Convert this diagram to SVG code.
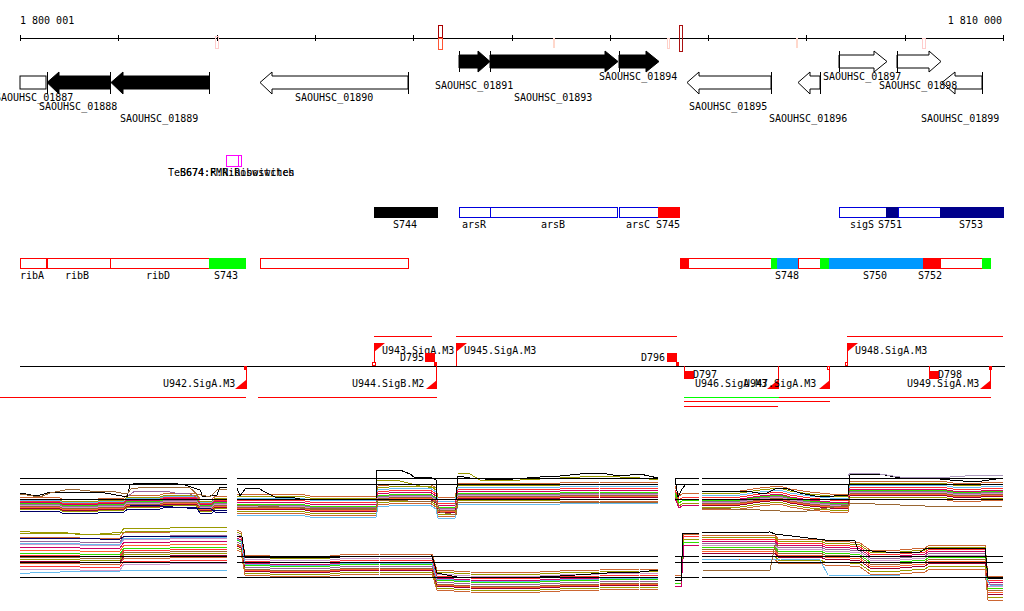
<svg xmlns="http://www.w3.org/2000/svg" xmlns:xlink="http://www.w3.org/1999/xlink" width="1024" height="611" viewBox="0 0 1024 611">
<style>
text{font-family:"DejaVu Sans Mono","Liberation Mono",monospace;font-size:10px;fill:#000}
.ln{stroke:#000;stroke-width:1;shape-rendering:crispEdges;fill:none}
.rl{stroke:#f00;stroke-width:1;shape-rendering:crispEdges;fill:none}
.gl{stroke:#0f0;stroke-width:1;shape-rendering:crispEdges;fill:none}
.gb{fill:#000;stroke:#000;stroke-width:1}
.gw{fill:#fff;stroke:#000;stroke-width:1}
.ro{fill:#fff;stroke:#f00;stroke-width:1;shape-rendering:crispEdges}
.bo{fill:#fff;stroke:#0000dd;stroke-width:1;shape-rendering:crispEdges}
.rf{fill:#f00;shape-rendering:crispEdges}
.gf{fill:#00ff00;shape-rendering:crispEdges}
.cf{fill:#0099ff;shape-rendering:crispEdges}
.nf{fill:#00008b;shape-rendering:crispEdges}
.pl{fill:none;stroke-width:1;shape-rendering:crispEdges}
.c1{stroke:#cc6633}.c2{stroke:#999900}.c3{stroke:#ff3333}.c4{stroke:#cc0066}
.c5{stroke:#66bbee}.c6{stroke:#33dd00}.c7{stroke:#996699}.c8{stroke:#cc99cc}
.c9{stroke:#996633}.c10{stroke:#000066}.c11{stroke:#ff6633}.c12{stroke:#990033}
.ck{stroke:#000}
</style>
<defs>
<path id="ua" d="M20,501 H58 L62,503 H98 L102,502 H124 L128,499 H160 L166,497 H196 L200,503 H212 L216,500 H227"/>
<path id="ub" d="M237,503 L260,502 H300 L310,504 H376 L378,494 L400,492 H430 L436,496 L438,505 H455 L458,492 L480,491 H560 L600,490 H658"/>
<path id="uc" d="M675,490 L679,500 L684,497 H699"/>
<path id="ud" d="M702,497 L740,497 L760,494 L780,492 L790,495 L810,498 L830,500 H848 L850,488 L880,487 H940 L960,490 L1003,488"/>
<path id="la" d="M20,553 H60 L80,554 H120 L124,548 H170 L190,547 H227"/>
<path id="lb" d="M237,540 L241,542 L245,565 L270,566 H330 L340,565 L380,564 H432 L437,580 L470,582 L520,583 L560,581 L600,580 L640,579 H658"/>
<path id="lc" d="M675,577 L681,578 L684,536 H699"/>
<path id="ld" d="M702,537 H775 L778,541 H820 L825,543 L850,544 L860,545 L870,552 L900,552 L925,550 L930,547 H985 L988,578 H1003"/>
</defs>
<rect width="1024" height="611" fill="#fff"/>

<g id="ruler">
<text x="20" y="24">1 800 001</text>
<text x="1002" y="24" text-anchor="end">1 810 000</text>
<path class="ln" d="M20,38 H1004 M20,35 V41 M118,35 V41 M217,35 V41 M315,35 V41 M413,35 V41 M512,35 V41 M610,35 V41 M708,35 V41 M806,35 V41 M905,35 V41 M1003,35 V41"/>
<rect x="215.5" y="36.5" width="3" height="12" fill="none" stroke="#ffcccc"/>
<rect x="438.5" y="25.5" width="4" height="12" fill="none" stroke="#aa0000"/>
<rect x="438.5" y="38.5" width="4" height="11" fill="none" stroke="#ff5533"/>
<rect x="553" y="38" width="2" height="10" fill="#ffd8cc"/>
<rect x="667.5" y="38.5" width="2" height="10" fill="none" stroke="#ffd0c8"/>
<rect x="679.5" y="25.5" width="3" height="26" fill="none" stroke="#aa1111"/>
<rect x="796" y="38" width="2" height="10" fill="#ffd8cc"/>
<rect x="922.5" y="38.5" width="3" height="10" fill="none" stroke="#ffcccc"/>
</g>

<g id="genes">
<g id="SAOUHSC_01887"><rect class="gw" x="20" y="76" width="26" height="13"/><text x="-5" y="101">SAOUHSC_01887</text></g>
<g id="SAOUHSC_01888"><polygon class="gb" points="47,82.5 59,72 59,76 110,76 110,89 59,89 59,94"/><text x="39" y="110">SAOUHSC_01888</text></g>
<g id="SAOUHSC_01889"><polygon class="gb" points="111,82.5 123,72 123,76 209,76 209,89 123,89 123,94"/><text x="120" y="122">SAOUHSC_01889</text></g>
<g id="SAOUHSC_01890"><polygon class="gw" points="260,82.5 272,72 272,76 408,76 408,89 272,89 272,94"/><text x="295" y="101">SAOUHSC_01890</text></g>
<g id="SAOUHSC_01891"><polygon class="gb" points="459,55 478,55 478,51 490,61.5 478,72 478,68 459,68"/><text x="435" y="89">SAOUHSC_01891</text></g>
<g id="SAOUHSC_01893"><polygon class="gb" points="490,55 605,55 605,51 618,61.5 605,72 605,68 490,68"/><text x="514" y="101">SAOUHSC_01893</text></g>
<g id="SAOUHSC_01894"><polygon class="gb" points="619,55 646,55 646,51 659,61.5 646,72 646,68 619,68"/><text x="599" y="80">SAOUHSC_01894</text></g>
<g id="SAOUHSC_01895"><polygon class="gw" points="687,82.5 699,72 699,76 771,76 771,89 699,89 699,94"/><text x="689" y="110">SAOUHSC_01895</text></g>
<g id="SAOUHSC_01896"><polygon class="gw" points="798,82.5 810,72 810,76 820,76 820,89 810,89 810,94"/><text x="769" y="122">SAOUHSC_01896</text></g>
<g id="SAOUHSC_01899"><polygon class="gw" points="942,82.5 955,72 955,76 982,76 982,89 955,89 955,94"/><text x="921" y="122">SAOUHSC_01899</text></g>
<g id="SAOUHSC_01898"><polygon class="gw" points="897,55 929,55 929,51 941,61.5 929,72 929,68 897,68"/><text x="879" y="89">SAOUHSC_01898</text></g>
<g id="SAOUHSC_01897"><polygon class="gw" points="839,55 874,55 874,51 887,61.5 874,72 874,68 839,68"/><text x="823" y="80">SAOUHSC_01897</text></g>
<path class="ln" d="M459,51 V72 M490,51 V72 M619,51 V72 M839,51 V72 M897,51 V72 M47,72 V94 M110,72 V94 M209,72 V94 M408,72 V94 M771,72 V94 M820,72 V94 M982,72 V94"/>
</g>

<g id="riboswitch">
<rect x="226.5" y="155.5" width="15" height="11" fill="none" stroke="#ff00ff" shape-rendering="crispEdges"/>
<rect x="226.5" y="155.5" width="12" height="11" fill="none" stroke="#ff00ff" shape-rendering="crispEdges"/>
<text x="168" y="176">TeB674:R:Riboswitches</text>
<text x="180" y="176">S674:FMN:Riboswitch</text>
</g>

<g id="segments-upper">
<g id="S744"><rect x="374" y="207" width="64" height="11" fill="#000"/><text x="393" y="228">S744</text></g>
<g id="arsR"><rect class="bo" x="459.5" y="207.5" width="31" height="10"/><text x="462" y="228">arsR</text></g>
<g id="arsB"><rect class="bo" x="490.5" y="207.5" width="127" height="10"/><text x="541" y="228">arsB</text></g>
<g id="arsC"><rect class="bo" x="619.5" y="207.5" width="39" height="10"/><text x="626" y="228">arsC</text></g>
<g id="S745"><rect class="rf" x="658" y="207" width="22" height="11"/><text x="656" y="228">S745</text></g>
<g id="sigS"><rect class="bo" x="839.5" y="207.5" width="47" height="10"/><text x="850" y="228">sigS</text></g>
<g id="S751"><rect class="nf" x="886" y="207" width="12" height="11"/><text x="878" y="228">S751</text></g>
<rect class="bo" x="898.5" y="207.5" width="42" height="10"/>
<g id="S753"><rect class="nf" x="940" y="207" width="64" height="11"/><text x="959" y="228">S753</text></g>
</g>

<g id="segments-lower">
<g id="ribA"><rect class="ro" x="20.5" y="258.5" width="26" height="10"/><text x="20" y="279">ribA</text></g>
<g id="ribB"><rect class="ro" x="47.5" y="258.5" width="63" height="10"/><text x="65" y="279">ribB</text></g>
<g id="ribD"><rect class="ro" x="110.5" y="258.5" width="99" height="10"/><text x="146" y="279">ribD</text></g>
<g id="S743"><rect class="gf" x="209" y="258" width="37" height="11"/><text x="214" y="279">S743</text></g>
<rect class="ro" x="260.5" y="258.5" width="148" height="10"/>
<rect class="rf" x="680" y="258" width="8" height="11"/>
<rect class="ro" x="688.5" y="258.5" width="83" height="10"/>
<rect class="gf" x="771" y="258" width="6" height="11"/>
<g id="S748"><rect class="cf" x="777" y="258" width="21" height="11"/><text x="775" y="279">S748</text></g>
<rect class="ro" x="798.5" y="258.5" width="22" height="10"/>
<rect class="gf" x="820" y="258" width="9" height="11"/>
<g id="S750"><rect class="cf" x="829" y="258" width="94" height="11"/><text x="863" y="279">S750</text></g>
<g id="S752"><rect class="rf" x="923" y="258" width="17" height="11"/><text x="918" y="279">S752</text></g>
<rect class="ro" x="940.5" y="258.5" width="42" height="10"/>
<rect class="gf" x="982" y="258" width="9" height="11"/>
</g>

<g id="connectors">
<path class="ln" d="M20,366 H1005"/>
<path class="rl" d="M374,336 H432 M456,336 H677 M847,336 H1003 M0,397 H246 M258,397 H437 M779,397 H991 M684,401 H830 M684,406 H778"/>
<path class="gl" d="M684,397 H779"/>
</g>

<g id="promoters">
<g id="U943.SigA.M3"><path class="rl" d="M374,343 V362"/><rect x="372.5" y="362.5" width="3" height="3" fill="#fff" stroke="#f00" shape-rendering="crispEdges"/><polygon fill="#f00" points="374,343 385,343 374,352"/><text x="382" y="354">U943.SigA.M3</text></g>
<g id="U945.SigA.M3"><path class="rl" d="M456,343 V366"/><polygon fill="#f00" points="456,343 467,343 456,352"/><text x="464" y="354">U945.SigA.M3</text></g>
<g id="U948.SigA.M3"><path class="rl" d="M847,343 V362"/><rect x="845.5" y="362.5" width="2" height="3" fill="#fff" stroke="#f00" shape-rendering="crispEdges"/><polygon fill="#f00" points="847,343 858,343 847,352"/><text x="855" y="354">U948.SigA.M3</text></g>
<g id="U942.SigA.M3"><path class="rl" d="M246,366 V389"/><rect class="rf" x="244" y="366" width="3" height="4"/><polygon fill="#f00" points="235,389 246,389 246,380"/><text x="163" y="387">U942.SigA.M3</text></g>
<g id="U944.SigB.M2"><path class="rl" d="M436,366 V389"/><polygon fill="#f00" points="426,389 437,389 437,380"/><text x="352" y="387">U944.SigB.M2</text></g>
<g id="U946.SigA.M3"><path class="rl" d="M778,366 V389"/><polygon fill="#f00" points="767,389 778,389 778,380"/><text x="695" y="387">U946.SigA.M3</text></g>
<g id="U947.SigA.M3"><path class="rl" d="M829,369 V389"/><rect x="827.5" y="366.5" width="2" height="3" fill="#fff" stroke="#f00" shape-rendering="crispEdges"/><polygon fill="#f00" points="819,389 830,389 830,380"/><text x="744" y="387">U947.SigA.M3</text></g>
<g id="U949.SigA.M3"><path class="rl" d="M990,366 V389"/><rect class="rf" x="989" y="366" width="3" height="4"/><polygon fill="#f00" points="980,389 991,389 991,380"/><text x="907" y="387">U949.SigA.M3</text></g>
</g>

<g id="terminators">
<g id="D795"><rect class="rf" x="425" y="353" width="10" height="9"/><rect class="rf" x="434" y="362" width="3" height="4"/><text x="400" y="361">D795</text></g>
<g id="D796"><rect class="rf" x="667" y="353" width="10" height="9"/><rect class="rf" x="676" y="362" width="3" height="4"/><text x="641" y="361">D796</text></g>
<g id="D797"><path class="rl" d="M684,366 V371"/><rect class="rf" x="684" y="371" width="10" height="8"/><text x="693" y="378">D797</text></g>
<g id="D798"><path class="rl" d="M929,366 V371"/><rect class="rf" x="929" y="371" width="10" height="8"/><text x="938" y="378">D798</text></g>
</g>

<g id="profiles-upper">
<use href="#ua" class="pl c1" y="-4"/><use href="#ua" class="pl c2" y="-2"/><use href="#ua" class="pl c5" y="-1"/><use href="#ua" class="pl c3"/><use href="#ua" class="pl c4" y="1"/><use href="#ua" class="pl c6" y="2"/><use href="#ua" class="pl c7" y="3"/><use href="#ua" class="pl c8" y="4"/><use href="#ua" class="pl c9" y="5"/><use href="#ua" class="pl c11" y="6"/><use href="#ua" class="pl c12" y="7"/><use href="#ua" class="pl c2" y="8"/><use href="#ua" class="pl c10" y="10"/>
<path class="pl ck" d="M20,493 L37,496 L47,493 L67,492 H100 L127,497 L130,485 L137,483 H170 L185,485 L200,490 L203,497 L217,495 L220,487 H227"/>
<path class="pl c9" d="M20,494 L40,497 L50,493 L70,489 L90,491 H110 L127,494 L131,489 L145,487 H175 L190,488 L197,494 L210,497 L218,489 H227"/>
<path class="pl c7" d="M128,496 L135,491 H165 L175,493 L190,494 L198,498"/>
<path class="pl c10" d="M130,505 L160,506 L200,509 L210,508 L215,512 H227"/>
<use href="#ub" class="pl c1" y="-8"/><use href="#ub" class="pl c2" y="-6"/><use href="#ub" class="pl c5" y="-4"/><use href="#ub" class="pl c3" y="-2"/><use href="#ub" class="pl c4"/><use href="#ub" class="pl c6" y="2"/><use href="#ub" class="pl c7" y="3"/><use href="#ub" class="pl c8" y="4"/><use href="#ub" class="pl c9" y="5"/><use href="#ub" class="pl c11" y="6"/><use href="#ub" class="pl c12" y="7"/><use href="#ub" class="pl c2" y="9"/><use href="#ub" class="pl c1" y="11"/><use href="#ub" class="pl c5" y="13"/>
<path class="pl ck" d="M237,488 L240,496 L246,488 H258 L265,492 L275,497 H290 L300,499 H376 L377,470 H400 L410,474 L414,477 H430 L436,480 L437,499 H456 L458,476 L470,478 L500,480 L540,477 L560,476 L580,474 L600,473 L620,476 L640,474 L658,478"/>
<path class="pl c2" d="M377,480 L400,481 L420,486 L436,488 M458,473 L470,474 L480,480 H520 L560,478 L600,476 L640,478 L658,480"/>
<path class="pl c9" d="M237,505 L300,508 H376 L378,500 L437,502 L440,512 L456,515 L458,502 H658"/>
<use href="#uc" class="pl c1" y="-4"/><use href="#uc" class="pl c3"/><use href="#uc" class="pl c6" y="3"/><use href="#uc" class="pl c2" y="6"/><use href="#uc" class="pl c4" y="8"/>
<path class="pl ck" d="M675,478 L678,497 L682,489 L686,484 H699"/>
<use href="#ud" class="pl c1" y="-6"/><use href="#ud" class="pl c2" y="-4"/><use href="#ud" class="pl c5" y="-2"/><use href="#ud" class="pl c3"/><use href="#ud" class="pl c4" y="2"/><use href="#ud" class="pl c6" y="3"/><use href="#ud" class="pl c7" y="4"/><use href="#ud" class="pl c8" y="5"/><use href="#ud" class="pl c9" y="6"/><use href="#ud" class="pl c11" y="7"/><use href="#ud" class="pl c12" y="8"/><use href="#ud" class="pl c2" y="10"/><use href="#ud" class="pl c1" y="12"/>
<path class="pl ck" d="M702,491 L745,491 L765,494 L775,489 L785,488 L800,493 L820,497 L848,495 L850,474 L880,474 L900,478 L920,477 L950,480 L975,482 L1003,478"/>
<path class="pl" stroke="#aa99bb" d="M848,476 L850,473 L880,474 L900,477 L950,477 L980,475 L1003,476"/>
<path class="pl c9" d="M702,508 L760,510 L800,512 L848,505 L850,503 L900,505 L950,507 L1003,506"/>
<path class="ln" d="M20,478 H227 M20,484 H227 M20,499 H227 M237,478 H658 M237,484 H658 M237,499 H658 M675,478 H699 M675,484 H699 M675,499 H699 M702,478 H1003 M702,484 H1003 M702,499 H1003"/>
</g>

<g id="profiles-lower">
<use href="#la" class="pl c2" y="-20"/><use href="#la" class="pl c1" y="-16"/><use href="#la" class="pl c7" y="-12"/><use href="#la" class="pl c8" y="-9"/><use href="#la" class="pl c4" y="-6"/><use href="#la" class="pl c11" y="-3"/><use href="#la" class="pl c6"/><use href="#la" class="pl c3" y="2"/><use href="#la" class="pl c9" y="4"/><use href="#la" class="pl c2" y="6"/><use href="#la" class="pl c12" y="8"/><use href="#la" class="pl c1" y="10"/><use href="#la" class="pl c3" y="13"/><use href="#la" class="pl c5" y="-10"/><use href="#la" class="pl c8" y="16"/>
<path class="pl c2" d="M20,531 L40,533 L60,532 L75,534 H100 L125,532 L130,531 H227"/>
<path class="pl c10" d="M20,538 H80 L100,539 H120 L125,536 H227"/>
<path class="pl c5" d="M20,574 L40,572 H60 L70,571 H120 L125,570 H227"/>
<use href="#lb" class="pl c1" y="-10"/><use href="#lb" class="pl c2" y="-8"/><use href="#lb" class="pl c8" y="-6"/><use href="#lb" class="pl c3" y="-4"/><use href="#lb" class="pl c4" y="-2"/><use href="#lb" class="pl c6"/><use href="#lb" class="pl c7" y="2"/><use href="#lb" class="pl c9" y="4"/><use href="#lb" class="pl c11" y="5"/><use href="#lb" class="pl c12" y="6"/><use href="#lb" class="pl c2" y="8"/><use href="#lb" class="pl c5" y="-1"/><use href="#lb" class="pl c1" y="10"/>
<path class="pl ck" d="M237,536 L242,537 L245,557 L260,557 H340 L432,556 L437,573 L457,577 L520,578 L560,576 L607,573 L640,572 L658,570"/>
<use href="#lc" class="pl c1" y="-2"/><use href="#lc" class="pl c3"/><use href="#lc" class="pl c2" y="3"/><use href="#lc" class="pl c6" y="6"/><use href="#lc" class="pl c4" y="9"/>
<path class="pl ck" d="M675,580 L681,581 L683,533 H699"/>
<use href="#ld" class="pl c1" y="-2"/><use href="#ld" class="pl c2"/><use href="#ld" class="pl c3" y="2"/><use href="#ld" class="pl c4" y="4"/><use href="#ld" class="pl c7" y="6"/><use href="#ld" class="pl c8" y="8"/><use href="#ld" class="pl c6" y="10"/><use href="#ld" class="pl c9" y="12"/><use href="#ld" class="pl c11" y="14"/><use href="#ld" class="pl c12" y="16"/><use href="#ld" class="pl c2" y="19"/><use href="#ld" class="pl c1" y="22"/>
<path class="pl ck" d="M702,533 L770,532 L775,534 L825,540 L855,541 L858,550 L900,553 L920,552 L925,549 L940,548 L985,548 L988,578 H1003"/>
<path class="pl c5" d="M702,560 L740,559 L780,559 L820,560 L828,575 L900,576 L985,576 L990,585 H1003"/>
<path class="pl c9" d="M702,570 L740,571 L770,570 L775,545 L780,545"/>
<path class="ln" d="M20,556 H227 M20,562 H227 M20,577 H227 M237,556 H658 M237,562 H658 M237,577 H658 M675,556 H699 M675,562 H699 M675,577 H699 M702,556 H1003 M702,562 H1003 M702,577 H1003"/>
</g>
</svg>
